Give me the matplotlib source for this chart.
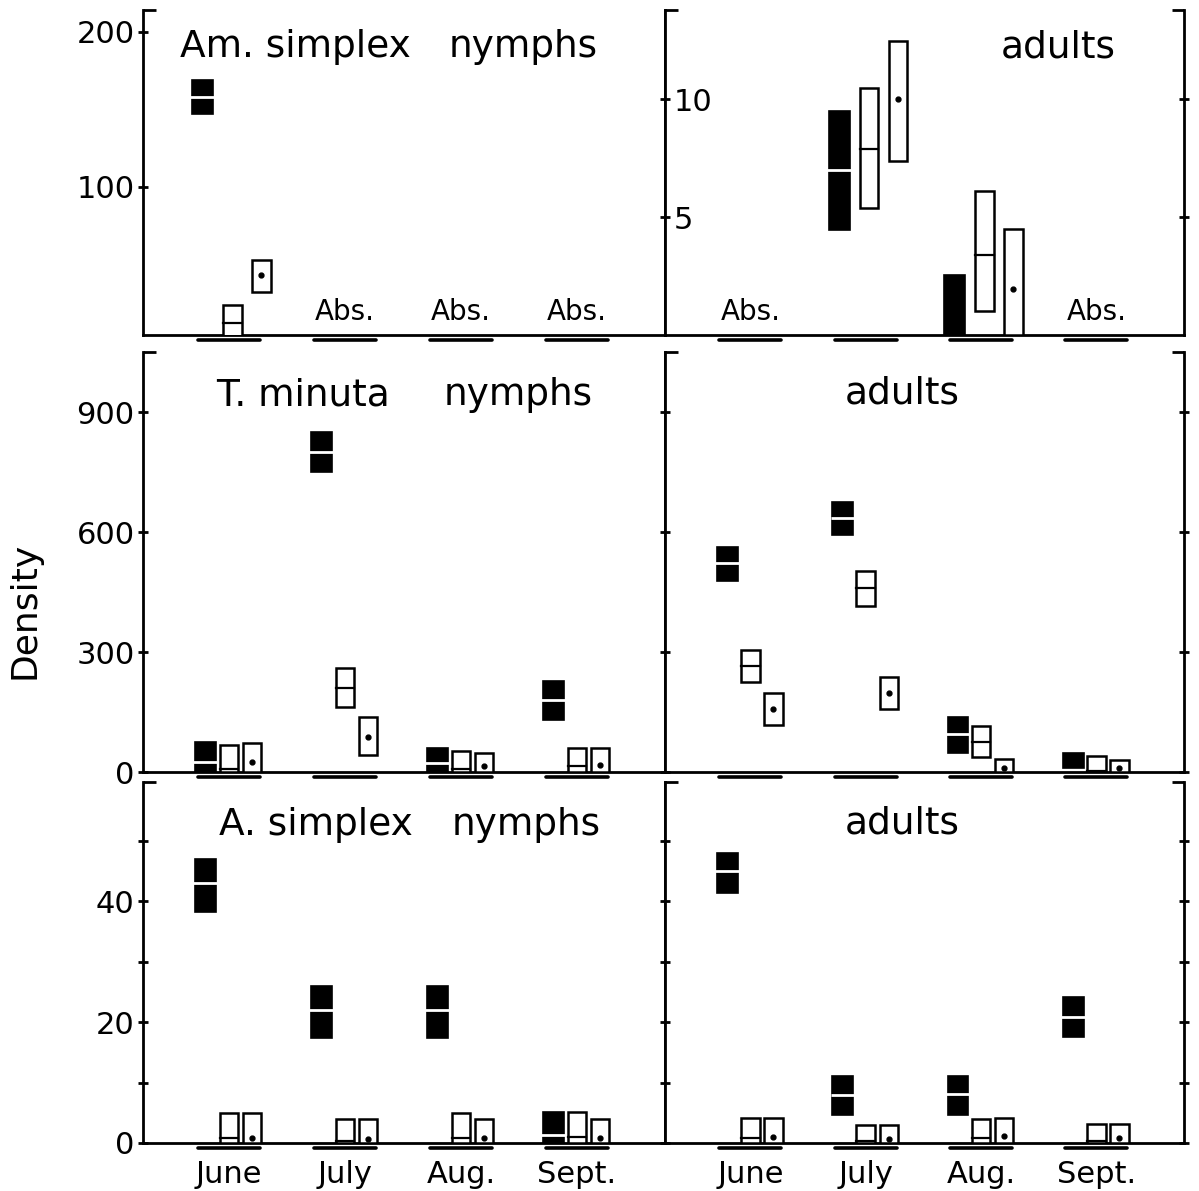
import matplotlib.pyplot as plt
import matplotlib.transforms as mtransforms
from matplotlib.patches import Rectangle

plt.rcParams['font.family'] = 'DejaVu Sans'

months = ['June', 'July', 'Aug.', 'Sept.']

# each entry is (low, mean, high), None = no box drawn
# Am. simplex nymphs
am_nym_black = [(147, 158, 169), None, None, None]
am_nym_line = [(0, 12, 24), None, None, None]
am_nym_dot = [(32, 43, 53), None, None, None]
am_nym_abs = [False, True, True, True]

# Am. simplex adults
am_ad_black = [None, (4.45, 7.0, 9.5), (0.0, None, 2.55), None]
am_ad_line = [None, (5.4, 7.9, 10.5), (1.0, 3.4, 6.1), None]
am_ad_dot = [None, (7.4, 10.0, 12.5), (0.0, 1.95, 4.5), None]
am_ad_abs = [True, False, False, True]

# T. minuta nymphs
tm_nym_black = [(0, 26, 75), (751, 799, 851), (0, 22, 60), (130, 180, 228)]
tm_nym_line = [(0, 7, 68), (163, 211, 259), (0, 7, 53), (0, 15, 60)]
tm_nym_dot = [(0, 26, 73), (43, 87, 138), (0, 15, 48), (0, 17, 60)]
tm_nym_abs = [False, False, False, False]

# T. minuta adults
tm_ad_black = [(478, 522, 562), (593, 634, 676), (47, 94, 138), (9, None, 48)]
tm_ad_line = [(224, 266, 305), (416, 461, 502), (37, 76, 115), (0, 2, 40)]
tm_ad_dot = [(118, 157, 197), (157, 197, 238), (0, 9, 32), (0, 10, 30)]
tm_ad_abs = [False, False, False, False]

# A. simplex nymphs
as_nym_black = [(38.2, 43.0, 46.9), (17.3, 22.0, 26.0), (17.3, 22.0, 26.0), (0, 1.3, 5.2)]
as_nym_line = [(0, 0.8, 4.9), (0, 0.3, 3.9), (0, 0.8, 5.0), (0, 1.0, 5.2)]
as_nym_dot = [(0, 0.9, 4.9), (0, 0.6, 3.9), (0, 0.9, 3.9), (0, 0.9, 3.9)]
as_nym_abs = [False, False, False, False]

# A. simplex adults
as_ad_black = [(41.4, 44.9, 47.9), (4.6, 7.9, 11.1), (4.6, 8.1, 11.0), (17.6, 20.9, 24.2)]
as_ad_line = [(0, 0.8, 4.1), (0, 0.3, 3.0), (0, 0.8, 3.9), (0, 0.3, 3.2)]
as_ad_dot = [(0, 1.0, 4.1), (0, 0.6, 3.0), (0, 1.1, 4.1), (0, 0.8, 3.2)]
as_ad_abs = [False, False, False, False]

W, H = 1199, 1191
fig = plt.figure(figsize=(W / 100, H / 100), dpi=100)


def px_axes(x0, x1, y0, y1):
    return fig.add_axes([x0 / W, 1 - y1 / H, (x1 - x0) / W, (y1 - y0) / H])


def draw_box(ax, x, stats, kind):
    if stats is None:
        return
    lo, mean, hi = stats
    if kind == 'black':
        w = 0.18
        ax.add_patch(Rectangle((x - w / 2, lo), w, hi - lo, facecolor='black',
                               edgecolor='black', lw=1.2, zorder=3))
        if mean is not None:
            ax.plot([x - w / 2 - 0.015, x + w / 2 + 0.015], [mean, mean], color='white',
                    lw=2.0, zorder=4, solid_capstyle='butt')
    else:
        w = 0.16
        ax.add_patch(Rectangle((x - w / 2, lo), w, hi - lo, facecolor='white',
                               edgecolor='black', lw=1.8, zorder=3))
        if kind == 'line':
            ax.plot([x - w / 2, x + w / 2], [mean, mean], color='black', lw=1.6, zorder=4)
        else:
            ax.plot(x, mean, 'o', color='black', ms=3.5, zorder=4)


def panel(ax, ylim, ticks, labels, black, line, dot, absent, offs, side, bottom_row):
    ax.set_xlim(-0.74, 3.76)
    ax.set_ylim(*ylim)
    ax.spines['top'].set_visible(False)
    for s in ['left', 'right', 'bottom']:
        ax.spines[s].set_linewidth(2)
    ax.set_yticks(ticks)
    ax.set_yticklabels(labels)
    ax.set_yticks([ylim[1]], minor=True)
    ax.tick_params(axis='y', which='major', direction='inout', length=7, width=2,
                   labelsize=22, pad=2.5)
    ax.tick_params(axis='y', which='minor', direction='in', length=9, width=2)
    if side == 'right':
        ax.yaxis.set_ticks_position('both')
        ax.tick_params(axis='y', which='both', labelright=False)
    else:
        ax.yaxis.set_ticks_position('left')

    ax.set_xticks(range(4))
    if bottom_row:
        ax.set_xticklabels(months)
        ax.tick_params(axis='x', length=0, labelsize=22, pad=12)
    else:
        ax.set_xticklabels([])
        ax.tick_params(axis='x', length=0)

    for i in range(4):
        draw_box(ax, i + offs[0], black[i], 'black')
        draw_box(ax, i + offs[1], line[i], 'line')
        draw_box(ax, i + offs[2], dot[i], 'dot')

    # month underlines just below the axis line
    trans = mtransforms.blended_transform_factory(ax.transData, ax.transAxes)
    under = mtransforms.offset_copy(trans, fig=fig, y=-5, units='dots')
    abs_tr = mtransforms.offset_copy(trans, fig=fig, y=15, units='dots')
    for i in range(4):
        ax.plot([i - 0.27, i + 0.27], [0, 0], color='black', lw=2.6,
                solid_capstyle='round', transform=under, clip_on=False)
        if absent[i]:
            ax.text(i, 0, 'Abs.', ha='center', va='baseline', fontsize=20,
                    transform=abs_tr)


top_offs = (-0.23, 0.03, 0.28)
low_offs = (-0.2, 0.0, 0.2)

ax1 = px_axes(143, 665, 10, 335)
panel(ax1, (4.5, 214), [100, 200], ['100', '200'], am_nym_black, am_nym_line, am_nym_dot,
      am_nym_abs, top_offs, 'left', False)

ax2 = px_axes(665, 1184, 10, 335)
panel(ax2, (0, 13.8), [5, 10], ['5', '10'], am_ad_black, am_ad_line, am_ad_dot,
      am_ad_abs, top_offs, 'right', False)
ax2.tick_params(axis='y', which='major', labelleft=True, pad=-9.5)
for lab in ax2.get_yticklabels():
    lab.set_ha('left')

ax3 = px_axes(143, 665, 352, 772)
panel(ax3, (0, 1050), [0, 300, 600, 900], ['0', '300', '600', '900'], tm_nym_black,
      tm_nym_line, tm_nym_dot, tm_nym_abs, low_offs, 'left', False)

ax4 = px_axes(665, 1184, 352, 772)
panel(ax4, (0, 1050), [0, 300, 600, 900], ['', '', '', ''], tm_ad_black, tm_ad_line,
      tm_ad_dot, tm_ad_abs, low_offs, 'right', False)
ax4.tick_params(axis='y', labelleft=False)

ax5 = px_axes(143, 665, 782, 1143)
panel(ax5, (0, 59.7), [0, 10, 20, 30, 40, 50], ['0', '', '20', '', '40', ''], as_nym_black,
      as_nym_line, as_nym_dot, as_nym_abs, low_offs, 'left', True)

ax6 = px_axes(665, 1184, 782, 1143)
panel(ax6, (0, 59.7), [0, 10, 20, 30, 40, 50], ['', '', '', '', '', ''], as_ad_black,
      as_ad_line, as_ad_dot, as_ad_abs, low_offs, 'right', True)
ax6.tick_params(axis='y', labelleft=False)

# panel titles, placed in pixel coordinates of the figure
def ftext(x, y, s, size=27):
    fig.text(x / W, 1 - y / H, s, fontsize=size, ha='left', va='baseline')


ftext(180, 57, 'Am. simplex')
ftext(449, 57, 'nymphs')
ftext(1001, 58, 'adults')
ftext(216, 405, 'T. minuta')
ftext(444, 405, 'nymphs')
ftext(845, 403, 'adults')
ftext(219, 835, 'A. simplex')
ftext(452, 835, 'nymphs')
ftext(845, 833, 'adults')

fig.text(25 / W, 1 - 610 / H, 'Density', rotation=90, fontsize=26, ha='center', va='center')

fig.savefig('out.png', dpi=100)
